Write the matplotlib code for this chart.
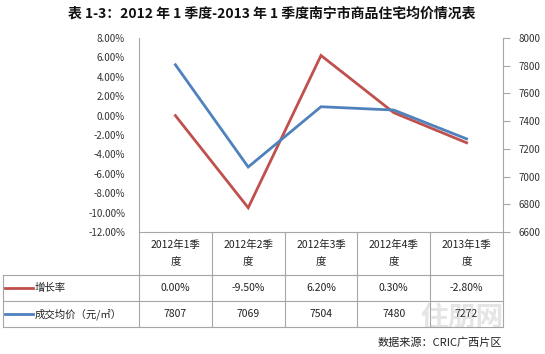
import matplotlib.pyplot as plt
from matplotlib.ticker import FuncFormatter, MultipleLocator

plt.rcParams['font.family'] = ['Noto Sans CJK SC', 'DejaVu Sans']

# data
quarters = ['2012年1季\n度', '2012年2季\n度', '2012年3季\n度', '2012年4季\n度', '2013年1季\n度']
growth = [0.00, -9.50, 6.20, 0.30, -2.80]          # %
price = [7807, 7069, 7504, 7480, 7272]             # 元/㎡
row_names = ['增长率', '成交均价（元/㎡）']

red = '#C0504D'
blue = '#4F81BD'
grid_c = '#A6A6A6'
W, H = 545, 354

fig = plt.figure(figsize=(W / 100, H / 100), dpi=100)
fig.patch.set_facecolor('white')

# plot area in pixel coords -> figure fraction
x0, x1, y0, y1 = 139, 503, 38, 232
ax = fig.add_axes([x0 / W, 1 - y1 / H, (x1 - x0) / W, (y1 - y0) / H])
ax2 = ax.twinx()

n = len(quarters)
xs = range(n)
ax.plot(xs, growth, color=red, lw=2.0, solid_joinstyle='miter', zorder=3)
ax2.plot(xs, price, color=blue, lw=2.0, solid_joinstyle='miter', zorder=3)

ax.set_xlim(-0.5, n - 0.5)
ax.set_ylim(-12, 8)
ax.yaxis.set_major_locator(MultipleLocator(2))
ax.yaxis.set_major_formatter(FuncFormatter(lambda v, p: '%.2f%%' % v))
ax2.set_ylim(6600, 8000)
ax2.yaxis.set_major_locator(MultipleLocator(200))

for a in (ax, ax2):
    for s in a.spines.values():
        s.set_visible(False)
    a.set_xticks([])
ax.spines['left'].set_visible(True)
ax.spines['left'].set_color(grid_c)
ax2.spines['right'].set_visible(True)
ax2.spines['right'].set_color(grid_c)
ax.tick_params(axis='y', length=0, labelsize=7, labelcolor='#333333', pad=10)
ax2.tick_params(axis='y', length=5, color=grid_c, labelsize=7, labelcolor='#333333', pad=6)
ax2.set_zorder(ax.get_zorder() + 1)

# ---- data table under the plot: x in category units, y in axes units ----
tr = ax.get_xaxis_transform()
unit = (x1 - x0) / n                       # pixels per category


def px_x(p):
    return -0.5 + (p - x0) / unit


def px_y(p):
    return (y1 - p) / (y1 - y0)


tb_left = px_x(3)
row_edges = [232, 275, 301, 327]          # header top/bottom, row1 bottom, row2 bottom
lk = dict(color=grid_c, lw=0.8, transform=tr, clip_on=False)

ax.plot([-0.5, n - 0.5], [px_y(row_edges[0])] * 2, **lk)
for e in row_edges[1:]:
    ax.plot([tb_left, n - 0.5], [px_y(e)] * 2, **lk)
for i in range(n + 1):
    ax.plot([i - 0.5] * 2, [px_y(row_edges[0]), px_y(row_edges[-1])], **lk)
ax.plot([tb_left] * 2, [px_y(row_edges[1]), px_y(row_edges[-1])], **lk)

tk = dict(transform=tr, clip_on=False, fontsize=7.5, color='#222222', va='center')
hy = px_y((row_edges[0] + row_edges[1]) / 2)
for i, q in enumerate(quarters):
    ax.text(i, hy, q, ha='center', linespacing=1.9, **tk)

rows = [['%.2f%%' % g for g in growth], ['%d' % p for p in price]]
for r, (name, vals, col) in enumerate(zip(row_names, rows, (red, blue))):
    cy = px_y((row_edges[r + 1] + row_edges[r + 2]) / 2)
    for i, v in enumerate(vals):
        ax.text(i, cy, v, ha='center', **tk)
    ax.plot([px_x(5), px_x(33)], [cy, cy], color=col, lw=2.0, transform=tr, clip_on=False)
    ax.text(px_x(35), cy, name, ha='left', **tk)

fig.text(272 / W, 1 - 14 / H, '表 1-3：2012 年 1 季度-2013 年 1 季度南宁市商品住宅均价情况表',
         ha='center', va='center', fontsize=10, fontweight='bold', color='#111111')
fig.text(502 / W, 1 - 343 / H, '数据来源：CRIC广西片区', ha='right', va='center',
         fontsize=8, color='#222222')
fig.text(462 / W, 1 - 318 / H, '住朋网', ha='center', va='center', fontsize=20,
         fontweight='bold', color='#999999', alpha=0.25)

fig.savefig('out.png', dpi=100)
